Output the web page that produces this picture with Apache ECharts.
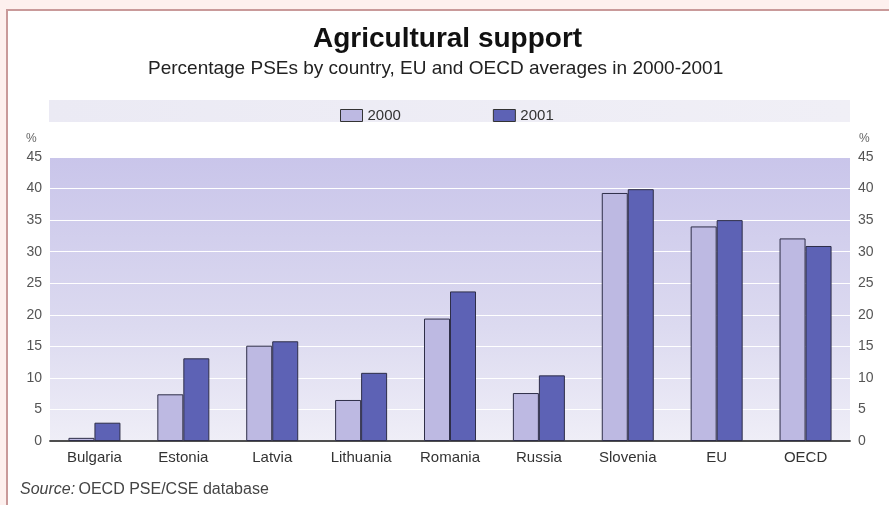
<!DOCTYPE html>
<html>
<head>
<meta charset="utf-8">
<script src="https://cdn.jsdelivr.net/npm/echarts@6/dist/echarts.min.js"></script>
<style>
html,body{margin:0;padding:0;background:#fdf0ee;}
#main{width:889px;height:505px;}
</style>
</head>
<body>
<div id="main"></div>
<script>
var categories = ['Bulgaria','Estonia','Latvia','Lithuania','Romania','Russia','Slovenia','EU','OECD'];
var values2000 = [0.5, 7.4, 15.1, 6.5, 19.4, 7.6, 39.3, 34.0, 32.1];
var values2001 = [2.9, 13.1, 15.8, 10.8, 23.7, 10.4, 39.9, 35.0, 30.9];
var yTicks = [0,5,10,15,20,25,30,35,40,45];

var chart = echarts.init(document.getElementById('main'), null, {renderer:'canvas'});
var font = 'Liberation Sans, Arial, sans-serif';
var yLabel = {fontSize:14, color:'#555', fontFamily:font, padding:[0,0,8,0]};
var option = {
  backgroundColor: 'transparent',
  animation: false,
  textStyle: {fontFamily: font},
  graphic: [
    {type:'rect', z:-10, shape:{x:7, y:10, width:900, height:520}, style:{fill:'#ffffff', stroke:'#c99a9a', lineWidth:2}},
    {type:'rect', z:-5, shape:{x:49, y:100, width:801, height:22},
     style:{fill:new echarts.graphic.LinearGradient(0,0,1,0,[{offset:0,color:'#ebeaf4'},{offset:1,color:'#f0eff6'}])}},
    {type:'text', left:20, top:482, style:{text:'{i|Source:} {n|OECD PSE/CSE database}', rich:{
      i:{fontStyle:'italic', fontSize:16, fill:'#444', fontFamily:font},
      n:{fontSize:16, fill:'#444', fontFamily:font}}}},
    {type:'text', left:26, top:133, style:{text:'%', fontSize:12, fill:'#666', fontFamily:font}},
    {type:'text', left:859, top:133, style:{text:'%', fontSize:12, fill:'#666', fontFamily:font}}
  ],
  title: [
    {text: 'Agricultural support', left: 308, top: 20,
     textStyle: {fontSize: 28, fontWeight: 'bold', color: '#111', fontFamily: font}},
    {text: 'Percentage PSEs by country, EU and OECD averages in 2000-2001', left: 143, top: 54,
     textStyle: {fontSize: 19, fontWeight: 'normal', color: '#222', fontFamily: font}}
  ],
  legend: {
    top: 103, left: 335, itemWidth: 22, itemHeight: 12, itemGap: 92, icon: 'rect',
    textStyle: {fontSize: 15, color: '#333', fontFamily: font},
    data: [
      {name:'2000', itemStyle:{color:'#bdb9e2', borderColor:'#333', borderWidth:1}},
      {name:'2001', itemStyle:{color:'#5d62b5', borderColor:'#333', borderWidth:1}}
    ]
  },
  grid: {
    left: 50, right: 39, top: 157, bottom: 64, show: true, borderWidth: 0,
    backgroundColor: new echarts.graphic.LinearGradient(0,0,0,1,[{offset:0,color:'#c9c5ea'},{offset:0.6,color:'#dcdaf0'},{offset:1,color:'#efeef7'}])
  },
  xAxis: [
    {type:'category', data: categories, axisTick:{show:false},
     axisLine:{lineStyle:{color:'#444', width:1.5}},
     axisLabel:{fontSize:15, color:'#333', margin:9, fontFamily:font}},
    {type:'category', position:'top', data: categories, axisTick:{show:false},
     axisLine:{lineStyle:{color:'#444', width:1.5}}, axisLabel:{show:false}}
  ],
  yAxis: [
    {type:'value', min:0, max:45, interval:5, position:'left',
     axisLine:{show:false}, axisTick:{show:false},
     axisLabel:Object.assign({margin:8, formatter:function(v){return yTicks.indexOf(v)>=0?String(v):'';}}, yLabel),
     splitLine:{lineStyle:{color:'#ffffff', width:1.2}}},
    {type:'value', min:0, max:45, interval:5, position:'right',
     axisLine:{show:false}, axisTick:{show:false},
     axisLabel:Object.assign({margin:8, formatter:function(v){return yTicks.indexOf(v)>=0?String(v):'';}}, yLabel),
     splitLine:{show:false}}
  ],
  series: [
    {name:'2000', type:'bar', data: values2000, barWidth:26, barGap:'0%',
     itemStyle:{color:'#bdb9e2', borderColor:'#2e2e48', borderWidth:1}},
    {name:'2001', type:'bar', data: values2001, barWidth:26, barGap:'0%',
     itemStyle:{color:'#5d62b5', borderColor:'#2e2e48', borderWidth:1}}
  ]
};
chart.setOption(option);
</script>
</body>
</html>
